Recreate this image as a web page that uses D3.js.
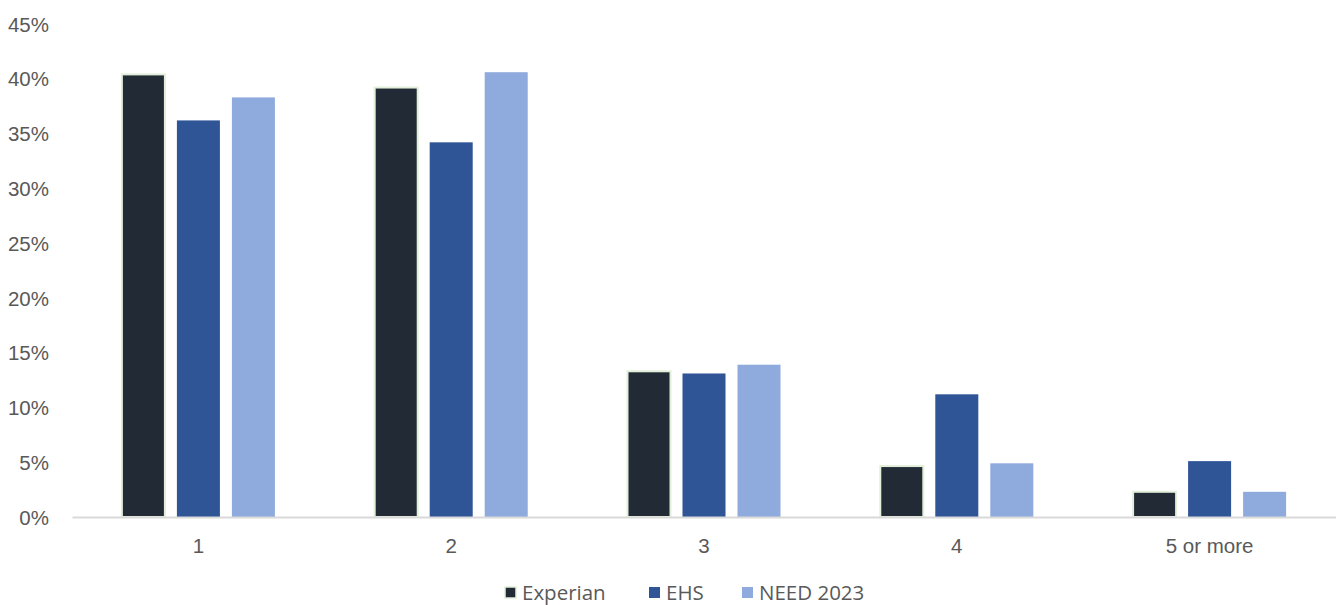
<!DOCTYPE html>
<html>
<head>
<meta charset="utf-8">
<script src="https://cdn.jsdelivr.net/npm/d3@7"></script>
<style>
  html, body { margin: 0; padding: 0; background: #fff; }
  svg { display: block; font-family: "Open Sans", "Noto Sans", sans-serif; }
</style>
</head>
<body>
<svg id="chart" width="1336" height="605"></svg>
<script>
// Share of households by number of occupants, three sources
const categories = ["1", "2", "3", "4", "5 or more"];
const seriesNames = ["Experian", "EHS", "NEED 2023"];
const experian = [40.4, 39.2, 13.3, 4.65, 2.3];
const ehs = [36.2, 34.2, 13.1, 11.2, 5.1];
const need2023 = [38.3, 40.6, 13.9, 4.9, 2.3];
const yTicks = [0, 5, 10, 15, 20, 25, 30, 35, 40, 45];

const seriesValues = [experian, ehs, need2023];
const colors = ["#222a35", "#2f5597", "#8faadc"];
const strokes = ["#e2efda", "none", "none"];

const svg = d3.select("#chart");
const margin = { left: 72, right: 0, top: 24, bottom: 88 };
const W = 1336, H = 605;
const fontSize = "20.5px";
const textColor = "#595959";

const x = d3.scaleBand().domain(categories).range([margin.left, W - margin.right]).paddingInner(0).paddingOuter(0);
const xs = d3.scaleBand().domain(seriesNames).range([0, x.bandwidth()]).paddingInner(0.218).paddingOuter(0.907);
const y = d3.scaleLinear().domain([0, 45]).range([H - margin.bottom, margin.top]);

// y tick labels
const yAxis = d3.axisLeft(y).tickValues(yTicks).tickFormat(d => d + "%").tickSize(0).tickPadding(0);
const gy = svg.append("g").attr("transform", `translate(${49},0)`).call(yAxis);
gy.select(".domain").remove();
gy.selectAll("text").attr("fill", textColor).style("font-size", fontSize).attr("text-anchor", "end").attr("dy", "0.35em");

// bars
const groups = svg.append("g").selectAll("g").data(seriesNames).join("g");
groups.each(function(name, si) {
  d3.select(this).selectAll("rect")
    .data(categories.map((c, i) => ({ c, v: seriesValues[si][i] })))
    .join("rect")
    .attr("x", d => x(d.c) + xs(name))
    .attr("width", xs.bandwidth())
    .attr("y", d => y(d.v))
    .attr("height", d => y(0) - y(d.v))
    .attr("fill", colors[si])
    .attr("stroke", strokes[si])
    .attr("stroke-width", 2);
});

// x axis
const xAxis = d3.axisBottom(x).tickSize(0).tickPadding(21);
const gx = svg.append("g").attr("transform", `translate(0,${y(0)})`).call(xAxis);
gx.select(".domain").attr("stroke", "#d9d9d9").attr("stroke-width", 2);
gx.selectAll("text").attr("fill", textColor).style("font-size", fontSize);

// legend
const legendX = [505, 649, 742];
const legend = svg.append("g").selectAll("g").data(seriesNames).join("g")
  .attr("transform", (d, i) => `translate(${legendX[i]},${593})`);
legend.append("rect")
  .attr("x", 0).attr("y", -6).attr("width", 11).attr("height", 11)
  .attr("fill", (d, i) => colors[i])
  .attr("stroke", (d, i) => strokes[i]).attr("stroke-width", 1.5);
legend.append("text")
  .attr("x", 17).attr("y", 0).attr("dy", "0.35em")
  .attr("fill", textColor).style("font-size", fontSize)
  .text(d => d);
</script>
</body>
</html>
